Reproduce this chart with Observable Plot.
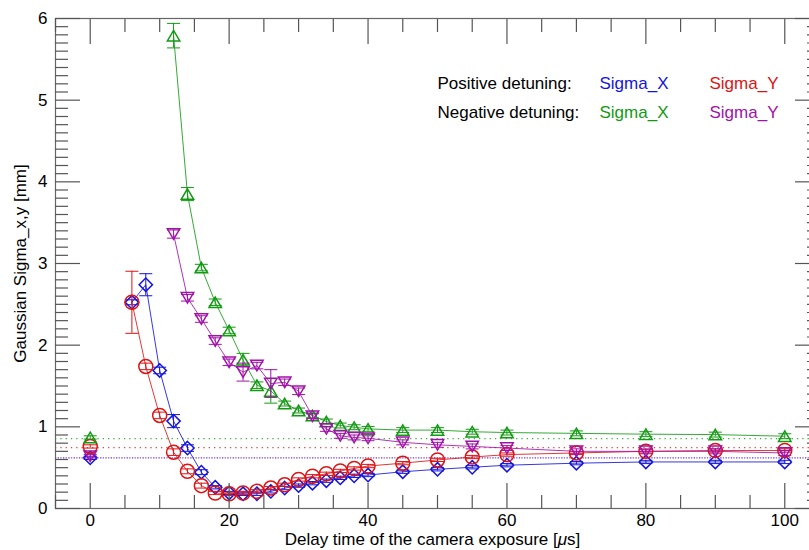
<!DOCTYPE html>
<html><head><meta charset="utf-8">
<script src="https://cdn.jsdelivr.net/npm/d3@7"></script>
<script src="https://cdn.jsdelivr.net/npm/@observablehq/plot@0.6"></script>
<style>body{margin:0;background:#fff;}</style>
</head><body><div id="chart"></div>
<script>
// ---- data ----
const xPositive = [6,8,10,12,14,16,18,20,22,24,26,28,30,32,34,36,38,40,45,50,55,60,70,80,90,100];
const xNegative = [12,14,16,18,20,22,24,26,28,30,32,34,36,38,40,45,50,55,60,70,80,90,100];

const posSigmaX    = [2.525,2.74,1.69,1.07,0.74,0.445,0.26,0.19,0.18,0.18,0.21,0.25,0.28,0.31,0.34,0.375,0.40,0.41,0.45,0.48,0.505,0.53,0.555,0.57,0.57,0.57];
const posSigmaXErr = [0.03,0.135,0.04,0.08,0.04,0.03,0.02,0.02,0.02,0.02,0.02,0.02,0.02,0.02,0.02,0.02,0.02,0.02,0.02,0.02,0.02,0.02,0.02,0.02,0.02,0.02];
const posSigmaY    = [2.525,1.74,1.14,0.69,0.455,0.28,0.19,0.18,0.19,0.21,0.25,0.29,0.355,0.395,0.425,0.46,0.49,0.52,0.555,0.595,0.63,0.66,0.68,0.70,0.71,0.71];
const posSigmaYErr = [0.38,0.04,0.04,0.04,0.03,0.03,0.02,0.02,0.02,0.02,0.02,0.02,0.02,0.02,0.02,0.02,0.02,0.02,0.02,0.02,0.02,0.02,0.02,0.02,0.02,0.02];
const negSigmaX    = [5.79,3.85,2.95,2.525,2.18,1.82,1.51,1.44,1.285,1.20,1.14,1.065,1.016,0.995,0.975,0.96,0.96,0.94,0.93,0.92,0.91,0.905,0.885];
const negSigmaXErr = [0.15,0.08,0.04,0.04,0.04,0.08,0.04,0.15,0.03,0.03,0.03,0.03,0.03,0.03,0.03,0.03,0.03,0.03,0.03,0.03,0.03,0.03,0.03];
const negSigmaY    = [3.36,2.58,2.32,2.05,1.79,1.67,1.75,1.53,1.545,1.435,1.13,0.975,0.89,0.87,0.86,0.81,0.78,0.76,0.74,0.70,0.70,0.70,0.68];
const negSigmaYErr = [0.05,0.04,0.04,0.04,0.04,0.11,0.04,0.17,0.04,0.04,0.03,0.03,0.03,0.03,0.03,0.03,0.03,0.03,0.03,0.03,0.03,0.03,0.03];

// values at zero delay and the dotted reference levels
const zeroDelay   = [0];
const zeroValues  = [0.62, 0.76, 0.87, 0.64];   // posX, posY, negX, negY
const refLevels   = [0.62, 0.745, 0.855, 0.62]; // posX, posY, negX, negY

const xDomain = [-5, 105];
const yDomain = [0, 6];
const xMajor = [0,20,40,60,80,100];
const xMinor = d3.range(-5,106,5).filter(v => v % 20 !== 0);
const yMajor = [0,1,2,3,4,5,6];
const yMinor = d3.range(0,61,1).filter(v => v % 10 !== 0).map(v => v/10);

const legendRows = ["Positive detuning:", "Negative detuning:"];
const legendNames = ["Sigma_X", "Sigma_Y"];
const xTitle = "Delay time of the camera exposure [μs]";
const yTitle = "Gaussian Sigma_x,y [mm]";

// ---- symbols ----
const rOf = s => Math.sqrt(s/Math.PI);
const symCircle = {draw(c,s){const r=rOf(s); c.moveTo(r,0); c.arc(0,0,r,0,2*Math.PI); c.closePath();}};
const symDiamond = {draw(c,s){const r=rOf(s)*0.95; c.moveTo(0,-r); c.lineTo(r,0); c.lineTo(0,r); c.lineTo(-r,0); c.closePath();}};
const symTriUp = {draw(c,s){const r=rOf(s), w=r*0.89, h=r*0.75; c.moveTo(0,-h); c.lineTo(w,h); c.lineTo(-w,h); c.closePath();}};
const symTriDown = {draw(c,s){const r=rOf(s), w=r*0.89, h=r*0.75; c.moveTo(0,h); c.lineTo(w,-h); c.lineTo(-w,-h); c.closePath();}};
const symCap = {draw(c,s){const r=rOf(s); c.moveTo(-r,0); c.lineTo(r,0);}};

const series = [
  {key:"posX", xs:xPositive, ys:posSigmaX, es:posSigmaXErr, color:"#1414dc", symbol:symDiamond, z:0},
  {key:"posY", xs:xPositive, ys:posSigmaY, es:posSigmaYErr, color:"#dc1414", symbol:symCircle, z:1},
  {key:"negX", xs:xNegative, ys:negSigmaX, es:negSigmaXErr, color:"#129a12", symbol:symTriUp, z:2},
  {key:"negY", xs:xNegative, ys:negSigmaY, es:negSigmaYErr, color:"#a012a8", symbol:symTriDown, z:3}
];
const legendColors = [["#1414dc","#dc1414"],["#129a12","#a012a8"]];

const marks = [];
// dotted reference levels
series.forEach((s,i) => {
  marks.push(Plot.ruleY([refLevels[i]], {stroke:s.color, strokeWidth:1.2, strokeOpacity:0.8, strokeDasharray:"1.3,4", strokeDashoffset: i===0 ? 2.6 : 0}));
});
series.forEach(s => {
  const rows = s.xs.map((x,i) => ({x, y:s.ys[i], lo:s.ys[i]-s.es[i], hi:s.ys[i]+s.es[i]}));
  const zrow = [{x:zeroDelay[0], y:zeroValues[s.z], lo:zeroValues[s.z]-0.02, hi:zeroValues[s.z]+0.02}];
  const all = zrow.concat(rows);
  marks.push(Plot.line(rows, {x:"x", y:"y", stroke:s.color, strokeWidth:1, strokeOpacity:0.85}));
  marks.push(Plot.ruleX(all, {x:"x", y1:"lo", y2:"hi", stroke:s.color, strokeWidth:1}));
  marks.push(Plot.dot(all, {x:"x", y:"lo", symbol:symCap, r:6.5, stroke:s.color, strokeWidth:1, fill:"none"}));
  marks.push(Plot.dot(all, {x:"x", y:"hi", symbol:symCap, r:6.5, stroke:s.color, strokeWidth:1, fill:"none"}));
  marks.push(Plot.dot(all, {x:"x", y:"y", symbol:s.symbol, r:7, stroke:s.color, strokeWidth:1.5, fill:"none"}));
});

// frame + axes (inward ticks on all sides)
const tickColor = "#555";
marks.push(Plot.frame({stroke:"#666", strokeWidth:1.2}));
for (const anchor of ["bottom","top"]) {
  marks.push(Plot.axisX({anchor, ticks:xMajor, tickSize:-25, tickFormat:()=>"", label:null, stroke:tickColor, strokeWidth:1.2}));
  marks.push(Plot.axisX({anchor, ticks:xMinor, tickSize:-13, tickFormat:()=>"", label:null, stroke:tickColor, strokeWidth:1.2}));
}
for (const anchor of ["left","right"]) {
  marks.push(Plot.axisY({anchor, ticks:yMajor, tickSize:-25, tickFormat:()=>"", label:null, stroke:tickColor, strokeWidth:1.2}));
  marks.push(Plot.axisY({anchor, ticks:yMinor, tickSize:-13, tickFormat:()=>"", label:null, stroke:tickColor, strokeWidth:1.2}));
}
marks.push(Plot.axisX({anchor:"bottom", ticks:xMajor, tickSize:0, tickPadding:5, tickFormat:d=>String(d), label:null, fill:"#000"}));
marks.push(Plot.axisY({anchor:"left", ticks:yMajor, tickSize:0, tickPadding:8, tickFormat:d=>String(d), label:null, fill:"#000"}));

// titles
marks.push(Plot.text([xTitle], {frameAnchor:"bottom", dy:31, dx:-5, lineAnchor:"middle", fill:"#000", text:d=>d}));
marks.push(Plot.text([yTitle], {frameAnchor:"left", dx:-35, rotate:-90, textAnchor:"middle", lineAnchor:"middle", fill:"#000", text:d=>d}));

// legend
legendRows.forEach((row,ri) => {
  marks.push(Plot.text([row], {frameAnchor:"top-left", textAnchor:"start", lineAnchor:"middle", dx:382, dy:65+ri*29.5, fill:"#000", text:d=>d}));
  legendNames.forEach((nm,ci) => {
    marks.push(Plot.text([nm], {frameAnchor:"top-left", textAnchor:"start", lineAnchor:"middle", dx:544+ci*110, dy:65+ri*29.5, fill:legendColors[ri][ci], text:d=>d}));
  });
});

const chart = Plot.plot({
  width: 809, height: 550,
  marginLeft: 55, marginRight: -10, marginTop: 18, marginBottom: 42,
  x: {domain: xDomain},
  y: {domain: yDomain},
  style: {fontFamily: "'Liberation Sans', Arial, Helvetica, sans-serif", fontSize: "17px", background: "#fff", overflow: "hidden"},
  marks
});

// italic mu in x title
chart.querySelectorAll("text").forEach(t => {
  if (t.textContent === xTitle) {
    t.textContent = "";
    const ns = "http://www.w3.org/2000/svg";
    const parts = [["Delay time of the camera exposure [", false], ["μ", true], ["s]", false]];
    for (const [txt, it] of parts) {
      const sp = document.createElementNS(ns, "tspan");
      sp.textContent = txt;
      if (it) sp.setAttribute("font-style", "italic");
      t.appendChild(sp);
    }
  }
});
document.getElementById("chart").appendChild(chart);
</script>
</body></html>
